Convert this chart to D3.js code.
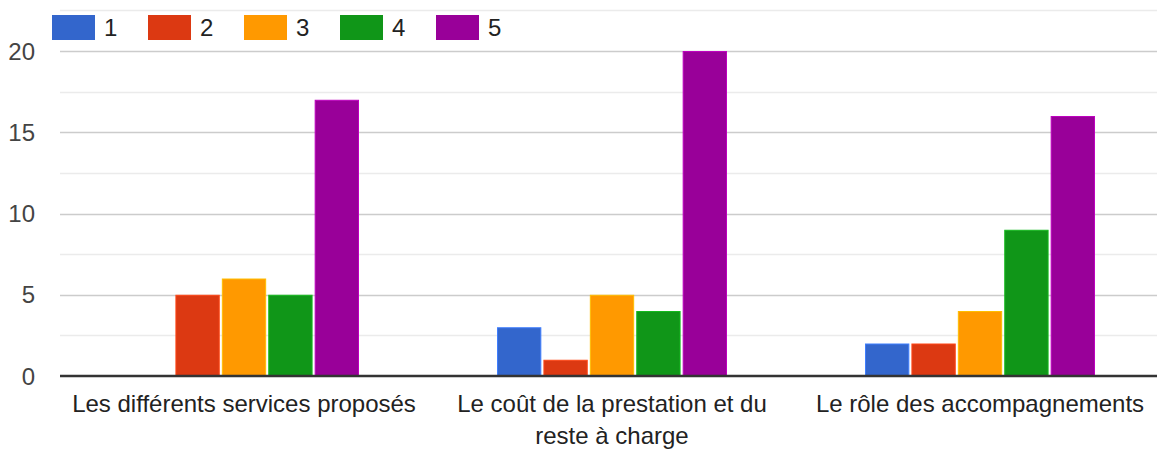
<!DOCTYPE html>
<html>
<head>
<meta charset="utf-8">
<script src="https://cdn.jsdelivr.net/npm/d3@7"></script>
<style>
  body { margin: 0; background: #fff; }
  text { font-family: Arial, "Liberation Sans", sans-serif; }
</style>
</head>
<body>
<svg id="chart"></svg>
<script>
// categories and series
const categories = [
    "Les différents services proposés",
    "Le coût de la prestation et du reste à charge",
    "Le rôle des accompagnements"
];
const seriesNames = ["1", "2", "3", "4", "5"];
const seriesColors = ["#3366cc", "#dc3912", "#ff9900", "#109618", "#990099"];

// counts per category, one array per series
const s1 = [0, 3, 2];
const s2 = [5, 1, 2];
const s3 = [6, 5, 4];
const s4 = [5, 4, 9];
const s5 = [17, 20, 16];
const allSeries = [s1, s2, s3, s4, s5];

const yTicks = [0, 5, 10, 15, 20];
const yMinorTicks = [2.5, 7.5, 12.5, 17.5, 22.5];

const width = 1157, height = 449;
const plotLeft = 60, plotRight = 1164, plotBottom = 376;

const svg = d3.select("#chart")
    .attr("width", width)
    .attr("height", height);

const y = d3.scaleLinear()
    .domain([0, 22.5])
    .range([plotBottom, 10.4]);

const x0 = d3.scaleBand()
    .domain(categories)
    .range([plotLeft, plotRight]);

const groupW = x0.bandwidth() * 0.625;
const x1 = d3.scaleBand()
    .domain(seriesNames)
    .range([0, groupW])
    .paddingInner(0.045);

// minor gridlines
svg.append("g")
    .selectAll("line")
    .data(yMinorTicks)
    .join("line")
    .attr("x1", plotLeft)
    .attr("x2", width)
    .attr("y1", d => Math.round(y(d)) + 0.5)
    .attr("y2", d => Math.round(y(d)) + 0.5)
    .attr("stroke", "#ebebeb")
    .attr("stroke-width", 1.5);

// major gridlines
svg.append("g")
    .selectAll("line")
    .data(yTicks.filter(d => d > 0))
    .join("line")
    .attr("x1", plotLeft)
    .attr("x2", width)
    .attr("y1", d => Math.round(y(d)) + 0.5)
    .attr("y2", d => Math.round(y(d)) + 0.5)
    .attr("stroke", "#cccccc")
    .attr("stroke-width", 1.5);

// y tick labels
svg.append("g")
    .selectAll("text")
    .data(yTicks)
    .join("text")
    .attr("x", 35)
    .attr("y", d => y(d))
    .attr("dy", "0.36em")
    .attr("text-anchor", "end")
    .attr("fill", "#444")
    .attr("font-size", "24px")
    .text(d => d);

// bars
const groups = svg.append("g")
    .selectAll("g")
    .data(categories)
    .join("g")
    .attr("transform", c => `translate(${x0(c) + (x0.bandwidth() - groupW) / 2},0)`);

groups.selectAll("rect")
    .data((c, ci) => seriesNames.map((s, si) => ({s: s, v: allSeries[si][ci], color: seriesColors[si]})))
    .join("rect")
    .filter(d => d.v > 0)
    .attr("x", d => x1(d.s) + 0.5)
    .attr("y", d => y(d.v) + 0.5)
    .attr("width", x1.bandwidth() - 1)
    .attr("height", d => y(0) - y(d.v) - 0.5)
    .attr("fill", d => d.color)
    .attr("stroke", d => d3.color(d.color).brighter(0.6))
    .attr("stroke-width", 1);

// baseline
svg.append("line")
    .attr("x1", plotLeft)
    .attr("x2", width)
    .attr("y1", y(0))
    .attr("y2", y(0))
    .attr("stroke", "#333")
    .attr("stroke-width", 2.5);

// x category labels, wrapped when wider than the band
const labels = svg.append("g")
    .selectAll("text")
    .data(categories)
    .join("text")
    .attr("x", c => x0(c) + x0.bandwidth() / 2)
    .attr("y", 412)
    .attr("text-anchor", "middle")
    .attr("fill", "#222")
    .attr("font-size", "24px");

labels.each(function(c) {
    const el = d3.select(this);
    const cx = el.attr("x");
    const words = c.split(" ");
    let line = [];
    let tspan = el.append("tspan").attr("x", cx).attr("dy", 0);
    words.forEach(w => {
        line.push(w);
        tspan.text(line.join(" "));
        if (tspan.node().getComputedTextLength() > 350 && line.length > 1) {
            line.pop();
            tspan.text(line.join(" "));
            line = [w];
            tspan = el.append("tspan").attr("x", cx).attr("dy", 32).text(w);
        }
    });
});

// legend
const legend = svg.append("g")
    .selectAll("g")
    .data(seriesNames)
    .join("g")
    .attr("transform", (d, i) => `translate(${52 + i * 96},15)`);

legend.append("rect")
    .attr("width", 43)
    .attr("height", 25)
    .attr("fill", (d, i) => seriesColors[i]);

legend.append("text")
    .attr("x", 52)
    .attr("y", 12.5)
    .attr("dy", "0.36em")
    .attr("fill", "#222")
    .attr("font-size", "24px")
    .text(d => d);
</script>
</body>
</html>
